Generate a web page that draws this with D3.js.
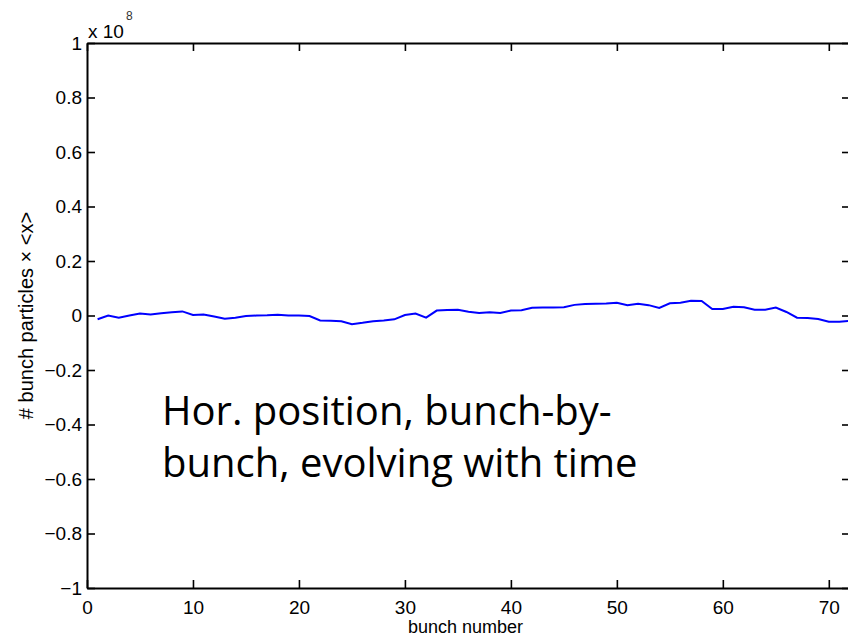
<!DOCTYPE html>
<html><head><meta charset="utf-8">
<script src="https://cdn.jsdelivr.net/npm/d3@7"></script>
<style>html,body{margin:0;padding:0;background:#fff;}svg{display:block;}</style>
</head><body>
<script>
// bunch numbers 1..72
const bunches = d3.range(1, 73);
// # bunch particles × <x>, in units of 1e8
const values = [
 -0.014, 0.000, -0.008, 0.000, 0.007, 0.004, 0.008, 0.012, 0.015, 0.002,
  0.004, -0.004, -0.012, -0.008, -0.002, 0.000, 0.001, 0.003, 0.000, 0.000,
 -0.002, -0.018, -0.019, -0.021, -0.032, -0.027, -0.021, -0.018, -0.014, 0.002,
  0.007, -0.008, 0.018, 0.020, 0.021, 0.014, 0.009, 0.012, 0.009, 0.018,
  0.019, 0.028, 0.029, 0.029, 0.030, 0.039, 0.042, 0.043, 0.044, 0.047,
  0.038, 0.043, 0.038, 0.028, 0.045, 0.047, 0.054, 0.053, 0.024, 0.024,
  0.032, 0.030, 0.021, 0.021, 0.029, 0.013, -0.008, -0.009, -0.013, -0.023,
 -0.023, -0.019
];
const xTicks = [0, 10, 20, 30, 40, 50, 60, 70];
const yTicks = [-1, -0.8, -0.6, -0.4, -0.2, 0, 0.2, 0.4, 0.6, 0.8, 1];
const yTickLabels = ["\u22121", "\u22120.8", "\u22120.6", "\u22120.4", "\u22120.2", "0", "0.2", "0.4", "0.6", "0.8", "1"];
const xLabel = "bunch number";
const yLabel = "# bunch particles \u00d7 <x>";
const annotation = ["Hor. position, bunch-by-", "bunch, evolving with time"];

const W = 848, H = 636;
const L = 87, R = 850, T = 43, B = 588;
const svg = d3.select("body").append("svg").attr("width", W).attr("height", H);

const x = d3.scaleLinear().domain([0, 72]).range([L, R]);
const y = d3.scaleLinear().domain([-1, 1]).range([B, T]);

const font = "'Liberation Sans', Arial, Helvetica, sans-serif";
const tickLen = 8;

// axes with inward ticks
const gB = svg.append("g").attr("transform", `translate(0,${B})`)
  .call(d3.axisBottom(x).tickValues(xTicks).tickSizeInner(-tickLen).tickSizeOuter(0).tickPadding(13).tickFormat(d3.format("d")));
const gT = svg.append("g").attr("transform", `translate(0,${T})`)
  .call(d3.axisTop(x).tickValues(xTicks).tickSizeInner(-tickLen).tickSizeOuter(0).tickFormat(""));
const gL = svg.append("g").attr("transform", `translate(${L},0)`)
  .call(d3.axisLeft(y).tickValues(yTicks).tickSizeInner(-tickLen).tickSizeOuter(0).tickPadding(5)
    .tickFormat((d, i) => yTickLabels[i]));
const gR = svg.append("g").attr("transform", `translate(${R},0)`)
  .call(d3.axisRight(y).tickValues(yTicks).tickSizeInner(-tickLen).tickSizeOuter(0).tickFormat(""));

[gB, gT, gL, gR].forEach(g => {
  g.select(".domain").attr("stroke", "#000").attr("stroke-width", 2);
  g.selectAll(".tick line").attr("stroke", "#000").attr("stroke-width", 1.6);
  g.selectAll("text").attr("font-family", font).attr("font-size", 19).attr("fill", "#000");
});

// data line
const line = d3.line().x((d, i) => x(bunches[i])).y(d => y(d));
svg.append("path").datum(values)
  .attr("d", line).attr("fill", "none").attr("stroke", "#0000ff").attr("stroke-width", 2);

// exponent label
svg.append("text").attr("x", 88).attr("y", 38)
  .attr("font-family", font).attr("font-size", 19).attr("fill", "#000").text("x 10");
svg.append("text").attr("x", 126).attr("y", 20)
  .attr("font-family", font).attr("font-size", 12).attr("fill", "#333").text("8");

// axis labels
svg.append("text").attr("x", (L + R) / 2 - 3).attr("y", 633)
  .attr("text-anchor", "middle").attr("font-family", font).attr("font-size", 18).text(xLabel);
svg.append("text").attr("transform", `translate(33,${(T + B) / 2}) rotate(-90)`)
  .attr("text-anchor", "middle").attr("font-family", font).attr("font-size", 20).text(yLabel);

// annotation
const ann = svg.append("text").attr("font-family", "'Open Sans', 'Noto Sans', sans-serif")
  .attr("font-size", 40).attr("fill", "#000");
annotation.forEach((t, i) => {
  ann.append("tspan").attr("x", 162).attr("y", 425 + i * 52).text(t);
});
</script>
</body></html>
